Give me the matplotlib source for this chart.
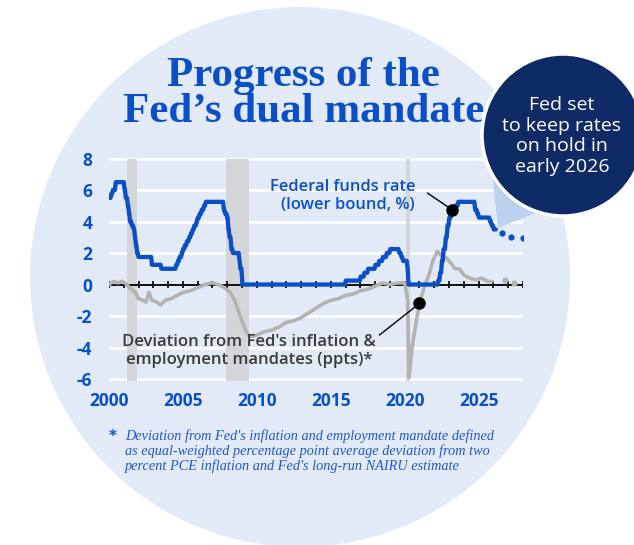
import numpy as np
import matplotlib
matplotlib.use("Agg")
import matplotlib.pyplot as plt
from matplotlib.patches import Circle, Polygon

plt.rcParams["axes.unicode_minus"] = False

# ---- data ----
# federal funds rate, lower bound (%): date of change (decimal year) and new level
fed_years = [2000.0, 2000.1, 2000.2, 2000.4, 2001.0, 2001.08, 2001.22, 2001.3, 2001.37,
             2001.49, 2001.62, 2001.7, 2001.77, 2001.85, 2001.94, 2002.85, 2003.49,
             2004.49, 2004.61, 2004.72, 2004.87, 2004.95, 2005.08, 2005.22, 2005.37,
             2005.49, 2005.61, 2005.72, 2005.87, 2005.95, 2006.08, 2006.22, 2006.37,
             2006.49, 2007.71, 2007.8, 2007.94, 2008.02, 2008.1, 2008.22, 2008.33,
             2008.77, 2008.83, 2008.96, 2015.96, 2016.96, 2017.22, 2017.47, 2017.96,
             2018.22, 2018.47, 2018.73, 2018.96, 2019.58, 2019.72, 2019.83, 2020.14,
             2020.2, 2022.21, 2022.34, 2022.46, 2022.57, 2022.72, 2022.84, 2022.96,
             2023.09, 2023.22, 2023.34, 2023.57, 2024.71, 2024.85, 2024.96, 2025.71,
             2025.83, 2025.96, 2026.1]
fed_rate = [5.5, 5.75, 6.0, 6.5, 6.0, 5.5, 5.0, 4.5, 4.0,
            3.75, 3.5, 3.0, 2.5, 2.0, 1.75, 1.25, 1.0,
            1.25, 1.5, 1.75, 2.0, 2.25, 2.5, 2.75, 3.0,
            3.25, 3.5, 3.75, 4.0, 4.25, 4.5, 4.75, 5.0,
            5.25, 4.75, 4.5, 4.25, 3.5, 3.0, 2.25, 2.0,
            1.5, 1.0, 0.0, 0.25, 0.5, 0.75, 1.0, 1.25,
            1.5, 1.75, 2.0, 2.25, 2.0, 1.75, 1.5, 1.0,
            0.0, 0.25, 0.75, 1.5, 2.25, 3.0, 3.75, 4.25,
            4.5, 4.75, 5.0, 5.25, 4.75, 4.5, 4.25, 4.0,
            3.75, 3.5, 3.5]
# expected path (dots)
fed_fc_years = [2026.6, 2027.2, 2028.0]
fed_fc_rate = [3.25, 3.0, 2.95]

# deviation from inflation & employment mandates (ppts)
dev_years = [2000.0, 2000.3, 2000.6, 2000.9, 2001.2, 2001.5, 2001.8, 2002.0, 2002.3,
             2002.5, 2002.7, 2002.9, 2003.2, 2003.5, 2003.8, 2004.2, 2004.6, 2005.0,
             2005.5, 2006.0, 2006.5, 2007.0, 2007.4, 2007.8, 2008.2, 2008.5, 2008.8,
             2009.1, 2009.4, 2009.7, 2010.0, 2010.5, 2011.0, 2011.5, 2012.0, 2012.5,
             2013.0, 2013.5, 2014.0, 2014.5, 2015.0, 2015.5, 2016.0, 2016.5, 2017.0,
             2017.5, 2018.0, 2018.5, 2019.0, 2019.5, 2020.0, 2020.2, 2020.3, 2020.5,
             2020.75, 2021.0, 2021.3, 2021.6, 2021.9, 2022.2, 2022.5, 2022.8, 2023.1,
             2023.4, 2023.7, 2024.0, 2024.4, 2024.8, 2025.2, 2025.6, 2025.9]
dev_vals = [0.0, 0.2, 0.1, 0.2, 0.0, -0.3, -0.5, -0.9, -1.0,
            -1.1, -0.5, -1.0, -1.1, -1.3, -1.0, -0.9, -0.7, -0.5,
            -0.4, -0.2, 0.0, 0.1, 0.0, -0.2, -0.5, -1.0, -1.8,
            -2.6, -3.2, -3.3, -3.2, -3.0, -2.9, -2.7, -2.4, -2.3,
            -2.1, -1.8, -1.5, -1.2, -1.0, -0.9, -0.7, -0.6, -0.4,
            -0.3, -0.1, 0.1, 0.0, 0.1, 0.1, -1.0, -5.9, -4.0,
            -2.5, -1.2, -0.2, 0.5, 1.5, 2.1, 1.8, 1.7, 1.4,
            1.0, 1.0, 0.6, 0.4, 0.3, 0.4, 0.2, 0.2]
dev_fc_years = [2026.8, 2027.4]
dev_fc_vals = [0.3, 0.1]

# recessions
recessions = [(2001.2, 2001.9), (2007.9, 2009.5), (2020.1, 2020.35)]

x_labels = [2000, 2005, 2010, 2015, 2020, 2025]
y_labels = [-6, -4, -2, 0, 2, 4, 6, 8]

# ---- colours ----
BLUE = "#0b4fc6"
GREY = "#b5b3b1"
NAVY = "#0f2b66"
BG = "#e2eaf7"
SANS = ["Open Sans", "DejaVu Sans"]

# each rate change ramps in over about a month (monthly averages)
ramp = 0.06
fed_x, fed_y = [fed_years[0]], [fed_rate[0]]
for i in range(1, len(fed_years)):
    fed_x += [fed_years[i], fed_years[i] + ramp]
    fed_y += [fed_rate[i - 1], fed_rate[i]]

W, H = 634, 545
fig = plt.figure(figsize=(W / 100, H / 100), dpi=100)

# background circle (pixel coordinates)
bg = fig.add_axes([0, 0, 1, 1])
bg.set_xlim(0, W)
bg.set_ylim(H, 0)
bg.axis("off")
bg.add_patch(Circle((300, 277), 270, color=BG, lw=0))

# chart
ax = fig.add_axes([109 / W, 1 - 386.9 / H, 414 / W, 233.1 / H])
ax.set_xlim(2000, 2028)
ax.set_ylim(-6.5, 8.3)
ax.patch.set_visible(False)
for s in ax.spines.values():
    s.set_visible(False)

for y in y_labels:
    if y != 0:
        ax.axhline(y, color="white", lw=2, zorder=1)
for a, b in recessions:
    ax.fill_between([a, b], -6.1, 8.0, color="#d3d5d9", lw=0, zorder=2)

ax.axhline(0, color="black", lw=1.3, zorder=3)
ax.vlines(np.arange(2000, 2029), -0.25, 0.25, color="black", lw=1.2, zorder=3)

ax.plot(dev_years, dev_vals, color=GREY, lw=2.6, zorder=4, solid_capstyle="round")
ax.plot(dev_fc_years, dev_fc_vals, "o", color=GREY, ms=4.5, mec="none", zorder=4)
ax.plot(fed_x, fed_y, color=BLUE, lw=3.1, zorder=5,
        solid_joinstyle="round", solid_capstyle="round")
ax.plot(fed_fc_years, fed_fc_rate, "o", color=BLUE, ms=4.5, mec="none", zorder=5)

# leader lines and dots
ax.plot([2021.55, 2023.2], [5.8, 4.75], color="black", lw=1, zorder=6)
ax.plot([2023.2], [4.75], "o", color="black", ms=8, zorder=6)
ax.plot([2018.3, 2021.0], [-3.2, -1.2], color="black", lw=1, zorder=6)
ax.plot([2021.0], [-1.2], "o", color="black", ms=8, zorder=6)

ax.set_xticks(x_labels)
ax.set_yticks(y_labels)
ax.tick_params(axis="x", length=0, pad=4, labelcolor=BLUE, labelsize=12.5)
ax.tick_params(axis="y", length=0, pad=12, labelcolor=BLUE, labelsize=12.5)
for lab in ax.get_xticklabels() + ax.get_yticklabels():
    lab.set_fontweight("bold")
    lab.set_family(SANS)

# overlay: titles, bubble, notes
ov = fig.add_axes([0, 0, 1, 1], zorder=5)
ov.set_xlim(0, W)
ov.set_ylim(H, 0)
ov.axis("off")

ov.text(303, 86, "Progress of the", ha="center", va="baseline", fontsize=31,
        fontweight="bold", family="Liberation Serif", color=BLUE, zorder=2)
ov.text(304, 122, "Fed\u2019s dual mandate", ha="center", va="baseline", fontsize=31,
        fontweight="bold", family="Liberation Serif", color=BLUE, zorder=2)

ov.add_patch(Polygon([(492, 172), (498, 228), (548, 208)], closed=True,
                     color="#bcd1ef", lw=0, zorder=3))
ov.add_patch(Circle((563, 135), 81, facecolor=NAVY, edgecolor="white", lw=2.5, zorder=5))
ov.text(562, 136, "Fed set\nto keep rates\non hold in\nearly 2026", ha="center",
        va="center", color="white", fontsize=14, linespacing=1.2, family=SANS, zorder=6)

ov.text(415, 196, "Federal funds rate\n(lower bound, %)", ha="right", va="center",
        multialignment="right", fontsize=11.9, fontweight="semibold", color=BLUE,
        family=SANS, linespacing=1.1)
ov.text(249, 351, "Deviation from Fed's inflation &\nemployment mandates (ppts)*",
        ha="center", va="center", fontsize=12, fontweight="semibold", color="#3a3a3a",
        family=SANS, linespacing=1.25)

ov.text(113, 437, "*", ha="center", va="center", fontsize=11, fontweight="bold",
        color=BLUE, family="DejaVu Sans")
ov.text(125, 451, "Deviation from Fed's inflation and employment mandate defined\n"
        "as equal-weighted percentage point average deviation from two\n"
        "percent PCE inflation and Fed's long-run NAIRU estimate",
        ha="left", va="center", fontsize=10.3, style="italic", color="#2357c5",
        family="Liberation Serif", linespacing=1.12)

fig.savefig("out.png", dpi=100)
